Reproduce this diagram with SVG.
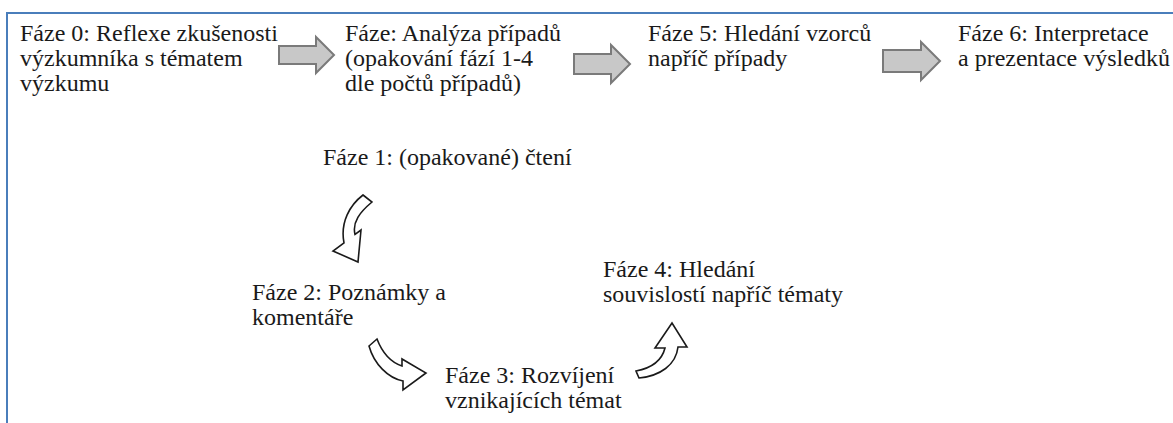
<svg xmlns="http://www.w3.org/2000/svg" width="1173" height="423" viewBox="0 0 1173 423">
<style>
.t text{font-size:24px;fill:#1a1a1a}
.frame{fill:none;stroke:#4a7ebb;stroke-width:2}
.block{fill:#c8c8c8;stroke:#7a7a7a;stroke-width:2;stroke-linejoin:miter}
.curve{fill:#fff;stroke:#1a1a1a;stroke-width:1.6;stroke-linejoin:miter}
</style>
<rect width="1173" height="423" fill="#fff"/>
<path class="frame" d="M7,423 V13 H1173"/>
<g class="t" font-family="'Liberation Serif', 'DejaVu Serif', 'Times New Roman', serif">
<g id="faze0"><text x="20" y="41">Fáze 0: Reflexe zkušenosti</text><text x="20" y="66">výzkumníka s tématem</text><text x="20" y="91">výzkumu</text></g>
<g id="fazeAnalyza"><text x="345" y="41">Fáze: Analýza případů</text><text x="345" y="66">(opakování fází 1-4</text><text x="345" y="91">dle počtů případů)</text></g>
<g id="faze5"><text x="648" y="41">Fáze 5: Hledání vzorců</text><text x="648" y="66">napříč případy</text></g>
<g id="faze6"><text x="958" y="41">Fáze 6: Interpretace</text><text x="958" y="66">a prezentace výsledků</text></g>
<g id="faze1"><text x="323" y="165">Fáze 1: (opakované) čtení</text></g>
<g id="faze2"><text x="252" y="300">Fáze 2: Poznámky a</text><text x="252" y="325">komentáře</text></g>
<g id="faze3"><text x="445" y="383">Fáze 3: Rozvíjení</text><text x="445" y="408">vznikajících témat</text></g>
<g id="faze4"><text x="603" y="277">Fáze 4: Hledání</text><text x="603" y="302">souvislostí napříč tématy</text></g>
</g>
<g id="connectors">
<path class="block" d="M279,46 H316 V37 L334,55 L316,73 V64 H279 Z"/>
<path class="block" d="M574,54 H611 V45 L630,64 L611,83 V74 H574 Z"/>
<path class="block" d="M883,50 H921 V42 L940,61 L921,80 V72 H883 Z"/>
<path class="curve" d="M363,195 L372,202 C360,212 352,222 355,234.5 L361,230 L358,262 L333,251 L344,243 C340,222 350,205 363,195 Z"/>
<path class="curve" d="M369,346 L377,339 C382,352 390,362 402,366 L402,359 L426,373 L403,390 L403,381 C388,378 374,364 369,346 Z"/>
<path class="curve" d="M636,371 C652,368 662,360 665,348 L655,348 L672,323 L687,347 L678,347 C676,365 660,376 639,378 Z"/>
</g>
</svg>
